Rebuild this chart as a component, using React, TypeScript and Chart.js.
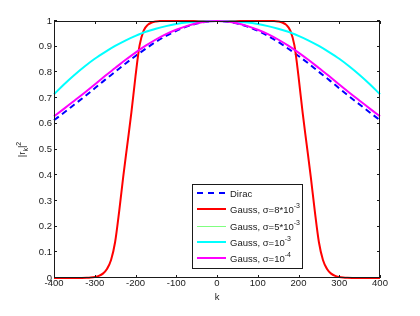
import React, { useEffect, useRef } from "react";
import { Chart, registerables } from "chart.js";

Chart.register(...registerables);

// ---- data ----
const kGrid = [
  -400, -375, -350, -325, -300, -275, -250, -225, -200, -175, -150, -125, -100, -75, -50, -25, 0,
  25, 50, 75, 100, 125, 150, 175, 200, 225, 250, 275, 300, 325, 350, 375, 400,
];

const diracValues = [
  0.614, 0.644, 0.675, 0.706, 0.738, 0.771, 0.802, 0.834, 0.864, 0.892, 0.919, 0.942, 0.962, 0.978, 0.99, 0.9975, 1,
  0.9975, 0.99, 0.978, 0.962, 0.942, 0.919, 0.892, 0.864, 0.834, 0.802, 0.771, 0.738, 0.706, 0.675, 0.644, 0.614,
];

const gaussSigma1e3Values = [
  0.715, 0.754, 0.79, 0.823, 0.853, 0.879, 0.903, 0.924, 0.942, 0.958, 0.97, 0.98, 0.988, 0.994, 0.997, 0.9995, 1,
  0.9995, 0.997, 0.994, 0.988, 0.98, 0.97, 0.958, 0.942, 0.924, 0.903, 0.879, 0.853, 0.823, 0.79, 0.754, 0.715,
];

const gaussSigma1e4Values = [
  0.629, 0.659, 0.69, 0.721, 0.753, 0.786, 0.817, 0.848, 0.877, 0.904, 0.928, 0.949, 0.966, 0.98, 0.991, 0.998, 1,
  0.998, 0.991, 0.98, 0.966, 0.949, 0.928, 0.904, 0.877, 0.848, 0.817, 0.786, 0.753, 0.721, 0.69, 0.659, 0.629,
];

// not visible in the reference: lies beneath the σ=10^-4 curve
const gaussSigma5e3Values = [
  0.629, 0.659, 0.69, 0.721, 0.753, 0.786, 0.817, 0.848, 0.877, 0.904, 0.928, 0.949, 0.966, 0.98, 0.991, 0.998, 1,
  0.998, 0.991, 0.98, 0.966, 0.949, 0.928, 0.904, 0.877, 0.848, 0.817, 0.786, 0.753, 0.721, 0.69, 0.659, 0.629,
];

const kRedGrid = [
  -400, -340, -320, -310, -300, -290, -280, -270, -260, -250, -240, -230, -220, -210, -200, -190, -180, -170, -160,
  -150, -140, -100, -50, 0, 50, 100, 140, 150, 160, 170, 180, 190, 200, 210, 220, 230, 240, 250, 260, 270, 280, 290,
  300, 310, 320, 340, 400,
];

const gaussSigma8e3Values = [
  0, 0, 0.001, 0.002, 0.004, 0.008, 0.017, 0.035, 0.07, 0.14, 0.26, 0.395, 0.52, 0.645, 0.785, 0.905, 0.963, 0.985,
  0.994, 0.998, 1, 1, 1, 1, 1, 1, 1, 0.998, 0.994, 0.985, 0.963, 0.905, 0.785, 0.645, 0.52, 0.395, 0.26, 0.14, 0.07,
  0.035, 0.017, 0.008, 0.004, 0.002, 0.001, 0, 0,
];

const xTicksMin = -400;
const xTicksMax = 400;
const xStep = 100;
const yStep = 0.1;

const legendLabels = ["Dirac", "Gauss, \u03c3=8*10", "Gauss, \u03c3=5*10", "Gauss, \u03c3=10", "Gauss, \u03c3=10"];
const legendExponents = ["", "-3", "-3", "-3", "-4"];

// ---- styles ----
const FONT = '"Liberation Sans", Arial, Helvetica, sans-serif';
const TEXT_COLOR = "#1a1a1a";
const AXIS_COLOR = "#1a1a1a";

const seriesStyles = [
  { color: "#0000ff", width: 2, dash: [6, 4] },
  { color: "#ff0000", width: 2, dash: [] },
  { color: "#80ff80", width: 1, dash: [] },
  { color: "#00ffff", width: 2, dash: [] },
  { color: "#ff00ff", width: 2, dash: [] },
];

function pts(xs: number[], ys: number[]) {
  return xs.map((x, i) => ({ x, y: ys[i] }));
}

function drawParts(
  ctx: CanvasRenderingContext2D,
  parts: { t: string; f: string; dy: number }[],
  x: number,
  y: number
) {
  let cx = x;
  for (const p of parts) {
    ctx.font = p.f;
    ctx.fillText(p.t, cx, y + p.dy);
    cx += ctx.measureText(p.t).width;
  }
  return cx;
}

function partsWidth(ctx: CanvasRenderingContext2D, parts: { t: string; f: string; dy: number }[]) {
  let w = 0;
  for (const p of parts) {
    ctx.font = p.f;
    w += ctx.measureText(p.t).width;
  }
  return w;
}

const axesBoxPlugin = {
  id: "axesBox",
  afterDatasetsDraw(chart: any) {
    const { ctx, chartArea, scales } = chart;
    const { left, right, top, bottom } = chartArea;
    const tl = 3;
    ctx.save();
    ctx.strokeStyle = AXIS_COLOR;
    ctx.lineWidth = 1;
    ctx.setLineDash([]);
    ctx.beginPath();
    for (const t of scales.x.ticks) {
      const px = Math.round(scales.x.getPixelForValue(t.value)) + 0.5;
      ctx.moveTo(px, bottom);
      ctx.lineTo(px, bottom - tl);
      ctx.moveTo(px, top);
      ctx.lineTo(px, top + tl);
    }
    for (const t of scales.y.ticks) {
      const py = Math.round(scales.y.getPixelForValue(t.value)) - 0.5;
      ctx.moveTo(left, py);
      ctx.lineTo(left + tl, py);
      ctx.moveTo(right, py);
      ctx.lineTo(right - tl, py);
    }
    ctx.stroke();
    ctx.strokeRect(left + 0.5, top + 0.5, right - left - 1, bottom - top - 1);
    ctx.restore();
  },
};

const yTitlePlugin = {
  id: "yTitle",
  afterDraw(chart: any) {
    const { ctx, chartArea } = chart;
    const cy = (chartArea.top + chartArea.bottom) / 2;
    const big = `9.5px ${FONT}`;
    const small = `7px ${FONT}`;
    const parts = [
      { t: "|r", f: big, dy: 0 },
      { t: "k", f: small, dy: 2.5 },
      { t: "|", f: big, dy: 0 },
      { t: "2", f: small, dy: -4.5 },
    ];
    ctx.save();
    ctx.translate(25, cy);
    ctx.rotate(-Math.PI / 2);
    ctx.fillStyle = TEXT_COLOR;
    ctx.textBaseline = "alphabetic";
    ctx.textAlign = "left";
    const w = partsWidth(ctx, parts);
    drawParts(ctx, parts, -w / 2, 0);
    ctx.restore();
  },
};

const legendPlugin = {
  id: "matlabLegend",
  afterDraw(chart: any) {
    const { ctx } = chart;
    const boxX = 192.5;
    const boxY = 184.5;
    const boxW = 110;
    const boxH = 84;
    ctx.save();
    ctx.fillStyle = "#ffffff";
    ctx.fillRect(boxX, boxY, boxW, boxH);
    ctx.strokeStyle = AXIS_COLOR;
    ctx.lineWidth = 1;
    ctx.strokeRect(boxX, boxY, boxW, boxH);
    const rowY0 = 193;
    const rowStep = 16.25;
    const big = `9.5px ${FONT}`;
    const small = `7px ${FONT}`;
    ctx.textBaseline = "alphabetic";
    ctx.textAlign = "left";
    legendLabels.forEach((label, i) => {
      const y = Math.round(rowY0 + i * rowStep);
      const st = seriesStyles[i];
      const ly = st.width % 2 === 1 ? y + 0.5 : y;
      ctx.strokeStyle = st.color;
      ctx.lineWidth = st.width;
      ctx.setLineDash(st.dash.length ? [6, 5] : []);
      ctx.beginPath();
      ctx.moveTo(197, ly);
      ctx.lineTo(226, ly);
      ctx.stroke();
      ctx.setLineDash([]);
      ctx.fillStyle = TEXT_COLOR;
      const parts = [{ t: label, f: big, dy: 0 }];
      if (legendExponents[i]) parts.push({ t: legendExponents[i], f: small, dy: -4.5 });
      drawParts(ctx, parts, 230, y + 3.5);
    });
    ctx.restore();
  },
};

export default function App() {
  const canvasRef = useRef<HTMLCanvasElement | null>(null);

  useEffect(() => {
    const canvas = canvasRef.current;
    if (!canvas) return;
    const seriesData = [
      pts(kGrid, diracValues),
      pts(kRedGrid, gaussSigma8e3Values),
      pts(kGrid, gaussSigma5e3Values),
      pts(kGrid, gaussSigma1e3Values),
      pts(kGrid, gaussSigma1e4Values),
    ];
    const datasets = seriesData.map((data, i) => ({
      label: legendLabels[i] + legendExponents[i],
      data,
      borderColor: seriesStyles[i].color,
      backgroundColor: seriesStyles[i].color,
      borderWidth: seriesStyles[i].width,
      borderDash: seriesStyles[i].dash,
      pointRadius: 0,
      fill: false,
      cubicInterpolationMode: "monotone" as const,
      order: 5 - i,
      clip: 2,
    }));
    const tickFont = { family: FONT, size: 9.5 };
    const chart = new Chart(canvas, {
      type: "line",
      data: { datasets },
      options: {
        animation: false,
        responsive: false,
        devicePixelRatio: 1,
        layout: { padding: { top: 21, right: 40, bottom: 0, left: 0 } },
        plugins: { legend: { display: false }, tooltip: { enabled: false } },
        scales: {
          x: {
            type: "linear",
            min: xTicksMin,
            max: xTicksMax,
            afterFit: (s: any) => {
              s.height = 38;
            },
            grid: { display: false, drawTicks: false },
            border: { display: false },
            ticks: {
              stepSize: xStep,
              padding: 0,
              color: TEXT_COLOR,
              font: tickFont,
              maxRotation: 0,
              callback: (v: any) => String(v),
            },
            title: {
              display: true,
              text: "k",
              color: TEXT_COLOR,
              font: { family: FONT, size: 9.5 },
              padding: { top: 0, bottom: 12.6 },
            },
          },
          y: {
            type: "linear",
            min: 0,
            max: 1,
            afterFit: (s: any) => {
              s.width = 54;
            },
            grid: { display: false, drawTicks: false },
            border: { display: false },
            ticks: {
              stepSize: yStep,
              padding: 2,
              color: TEXT_COLOR,
              font: tickFont,
              callback: (v: any) => String(Number(Number(v).toFixed(1))),
            },
          },
        },
      },
      plugins: [axesBoxPlugin, yTitlePlugin, legendPlugin],
    } as any);
    return () => chart.destroy();
  }, []);

  return (
    <div style={{ position: "fixed", left: 0, top: 0, width: 420, height: 316, background: "#ffffff" }}>
      <canvas ref={canvasRef} width={420} height={316} style={{ width: 420, height: 316, display: "block" }} />
    </div>
  );
}
